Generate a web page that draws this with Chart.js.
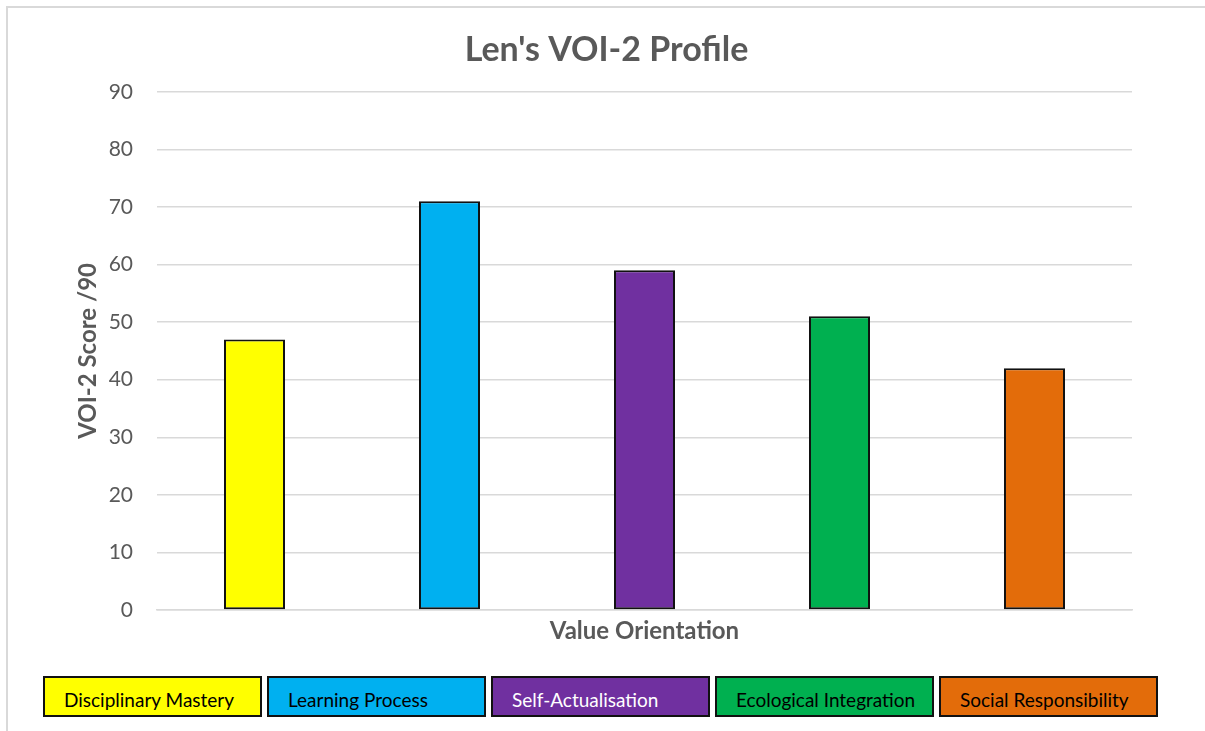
<!DOCTYPE html>
<html>
<head>
<meta charset="utf-8">
<title>Len's VOI-2 Profile</title>
<script src="https://cdn.jsdelivr.net/npm/chart.js@4.4.1/dist/chart.umd.min.js"></script>
<style>
  html, body { margin: 0; padding: 0; background: #fff; overflow: hidden; }
  body { width: 1205px; height: 731px; position: relative; font-family: Lato, "Open Sans", sans-serif; }
  .frame {
    position: absolute; left: 6px; top: 6px; width: 1300px; height: 800px;
    border-left: 2px solid #d9d9d9; border-top: 2px solid #d9d9d9;
  }
  .chart-box { position: absolute; left: 8px; top: 8px; width: 1197px; height: 642px; }
  .tabla {
    position: absolute; left: 43px; top: 676px;
    display: flex; gap: 5px;
  }
  .celda {
    box-sizing: border-box; width: 219px; height: 41px;
    border: 2px solid #111; padding: 11px 0 0 19px;
    font-size: 19px; line-height: 22px; color: #000; white-space: nowrap;
  }
</style>
</head>
<body>
<div class="frame"></div>
<div class="chart-box"><canvas id="chartVOI"></canvas></div>
<div class="tabla" id="tablaLeyenda"></div>

<script>
// ====================== DATOS ======================
const categorias = ["Disciplinary Mastery", "Learning Process", "Self-Actualisation", "Ecological Integration", "Social Responsibility"];
const puntajes   = [47, 71, 59, 51, 42];
const colores    = ["#ffff00", "#00b0f0", "#7030a0", "#00b050", "#e36c0a"];
const coloresTexto = ["#000", "#000", "#fff", "#000", "#000"];

const GRIS = "#595959";

// ====================== TABLA INFERIOR ======================
const tabla = document.getElementById("tablaLeyenda");
categorias.forEach((cat, i) => {
    const div = document.createElement("div");
    div.className = "celda";
    div.style.background = colores[i];
    div.style.color = coloresTexto[i];
    div.textContent = cat;
    tabla.appendChild(div);
});

// ====================== GRÁFICO ======================
const ctx = document.getElementById("chartVOI").getContext("2d");
new Chart(ctx, {
    type: "bar",
    data: {
        labels: categorias,
        datasets: [{
            label: "VOI-2 Score",
            data: puntajes,
            backgroundColor: colores,
            borderColor: "#111",
            borderWidth: 2,
            borderSkipped: false,
            barPercentage: 0.313,
            categoryPercentage: 1
        }]
    },
    options: {
        responsive: true,
        maintainAspectRatio: false,
        animation: false,
        layout: { padding: 0 },
        plugins: {
            legend: { display: false },
            tooltip: { enabled: false },
            title: {
                display: true,
                text: "Len's VOI-2 Profile",
                color: GRIS,
                font: { family: "Lato", size: 34, weight: "bold" },
                padding: { top: 22, bottom: 21 }
            }
        },
        scales: {
            x: {
                grid: { display: false },
                border: { display: true, color: "#d9d9d9", width: 1.5 },
                ticks: { display: false },
                title: {
                    display: true,
                    text: "Value Orientation",
                    color: GRIS,
                    font: { family: "Lato", size: 24, weight: "bold" },
                    padding: { top: 0, bottom: 4 }
                },
                afterFit: (scale) => { scale.height = 40; }
            },
            y: {
                min: 0,
                max: 90,
                ticks: {
                    stepSize: 10,
                    color: GRIS,
                    font: { family: "Lato", size: 21 },
                    padding: 24
                },
                grid: { color: "#d9d9d9", lineWidth: 1.5, drawTicks: false },
                border: { display: false },
                title: {
                    display: true,
                    text: "VOI-2 Score /90",
                    color: GRIS,
                    font: { family: "Lato", size: 24, weight: "bold" },
                    padding: { top: 66, bottom: 0 }
                },
                afterFit: (scale) => { scale.width = 149; }
            },
            // eje vacío a la derecha: solo reserva el margen
            yDer: {
                position: "right",
                min: 0,
                max: 90,
                ticks: { display: false },
                grid: { display: false },
                border: { display: false },
                afterFit: (scale) => { scale.width = 73; }
            }
        }
    }
});
</script>
</body>
</html>
